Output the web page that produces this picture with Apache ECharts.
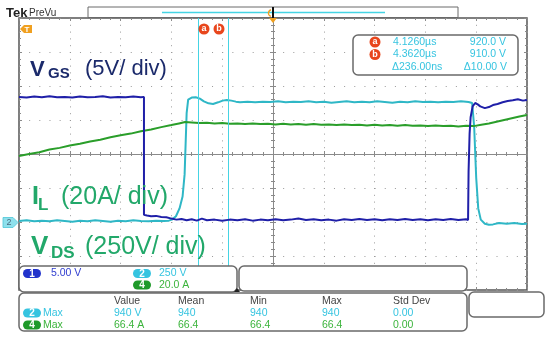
<!DOCTYPE html>
<html><head><meta charset="utf-8">
<script src="https://cdn.jsdelivr.net/npm/echarts@6/dist/echarts.min.js"></script>
<style>html,body{margin:0;padding:0;background:#fff}#c{width:550px;height:338px}</style>
</head><body><div id="c"></div>
<script>
// Data in screen divisions (x: -5..5 time div, y: -4..4 vertical div)
const vgs = [[-5,1.68],[-4.85,1.66],[-4.7,1.69],[-4.55,1.67],[-4.4,1.70],[-4.25,1.67],[-4.1,1.68],[-3.95,1.66],[-3.8,1.69],[-3.65,1.67],[-3.5,1.68],[-3.35,1.70],[-3.2,1.66],[-3.05,1.68],[-2.9,1.67],[-2.75,1.69],[-2.6,1.67],[-2.54,1.68],
[-2.54,-1.79],[-2.48,-1.81],[-2.4,-1.83],[-2.3,-1.82],[-2.2,-1.85],[-2.1,-1.86],[-2.0,-1.90],[-1.9,-1.93],[-1.8,-1.91],[-1.7,-1.95],[-1.6,-1.92],[-1.5,-1.96],[-1.4,-1.90],[-1.3,-1.95],[-1.15,-1.93],[-1.0,-1.96],[-0.85,-1.93],[-0.7,-1.95],[-0.55,-1.92],[-0.4,-1.96],[-0.25,-1.93],[-0.1,-1.95],[0.05,-1.92],[0.2,-1.95],[0.35,-1.93],[0.5,-1.90],[0.65,-1.94],[0.8,-1.92],[0.95,-1.95],[1.1,-1.93],[1.25,-1.96],[1.4,-1.92],[1.55,-1.94],[1.7,-1.91],[1.85,-1.94],[2.0,-1.92],[2.15,-1.95],[2.3,-1.92],[2.45,-1.94],[2.6,-1.91],[2.75,-1.94],[2.9,-1.92],[3.05,-1.95],[3.2,-1.92],[3.35,-1.94],[3.5,-1.91],[3.65,-1.94],[3.8,-1.92],[3.84,-1.94],
[3.85,-0.5],[3.87,0.6],[3.89,1.08],[3.93,1.40],[3.98,1.50],[4.03,1.46],[4.08,1.40],[4.17,1.35],[4.25,1.38],[4.33,1.44],[4.42,1.47],[4.52,1.52],[4.62,1.56],[4.72,1.58],[4.82,1.61],[4.92,1.57],[5,1.59]];
const vds = [[-5,-1.97],[-4.85,-1.95],[-4.7,-1.98],[-4.55,-1.96],[-4.4,-1.98],[-4.25,-1.95],[-4.1,-1.97],[-3.95,-1.99],[-3.8,-1.96],[-3.65,-1.98],[-3.5,-1.95],[-3.35,-1.97],[-3.2,-1.99],[-3.05,-1.96],[-2.9,-1.98],[-2.75,-1.95],[-2.6,-1.97],[-2.45,-1.98],[-2.3,-1.96],[-2.15,-1.97],[-2.05,-1.96],[-1.99,-1.93],[-1.91,-1.83],[-1.84,-1.60],[-1.78,-1.25],[-1.74,-0.60],[-1.72,0.30],[-1.70,1.20],[-1.67,1.60],[-1.60,1.66],[-1.52,1.67],[-1.44,1.63],[-1.36,1.55],[-1.27,1.49],[-1.18,1.47],[-1.08,1.52],[-0.99,1.57],[-0.91,1.59],[-0.82,1.57],[-0.73,1.54],[-0.65,1.52],[-0.5,1.54],[-0.35,1.52],[-0.2,1.54],[-0.05,1.53],[0.1,1.55],[0.25,1.52],[0.4,1.54],[0.55,1.53],[0.7,1.55],[0.85,1.52],[1.0,1.54],[1.15,1.51],[1.3,1.53],[1.45,1.55],[1.6,1.52],[1.75,1.54],[1.9,1.52],[2.05,1.55],[2.2,1.53],[2.35,1.51],[2.5,1.54],[2.65,1.52],[2.8,1.55],[2.95,1.53],[3.1,1.54],[3.25,1.52],[3.4,1.54],[3.55,1.53],[3.7,1.55],[3.85,1.53],[3.92,1.50],[3.96,0.80],[4.0,-0.70],[4.04,-1.60],[4.09,-1.93],[4.17,-2.05],[4.25,-2.08],[4.33,-2.07],[4.45,-2.03],[4.6,-2.05],[4.75,-2.03],[4.9,-2.06],[5,-2.05]];
const il = [[-5,-0.06],[-4.8,0.00],[-4.6,0.05],[-4.4,0.13],[-4.2,0.18],[-4.0,0.25],[-3.8,0.30],[-3.6,0.37],[-3.4,0.42],[-3.2,0.49],[-3.0,0.55],[-2.8,0.60],[-2.6,0.67],[-2.4,0.72],[-2.2,0.79],[-2.0,0.85],[-1.85,0.90],[-1.73,0.94],[-1.6,0.93],[-1.45,0.91],[-1.3,0.92],[-1.15,0.90],[-1.0,0.91],[-0.85,0.89],[-0.7,0.90],[-0.55,0.88],[-0.4,0.90],[-0.25,0.88],[-0.1,0.89],[0.05,0.87],[0.2,0.89],[0.35,0.87],[0.5,0.88],[0.65,0.86],[0.8,0.88],[0.95,0.86],[1.1,0.87],[1.25,0.85],[1.4,0.87],[1.55,0.85],[1.7,0.86],[1.85,0.84],[2.0,0.86],[2.15,0.84],[2.3,0.85],[2.45,0.83],[2.6,0.85],[2.75,0.83],[2.9,0.84],[3.05,0.82],[3.2,0.84],[3.35,0.82],[3.5,0.83],[3.65,0.81],[3.8,0.83],[3.95,0.82],[4.1,0.86],[4.25,0.90],[4.4,0.95],[4.55,1.00],[4.7,1.05],[4.85,1.10],[5,1.15]];
const cursorX = [-1.48, -0.89];
const cursorRows = [["4.1260\u00b5s","920.0 V"],["4.3620\u00b5s","910.0 V"],["\u0394236.00ns","\u039410.00 V"]];
const chScales = ["5.00 V","250 V","20.0 A"];
const measHeader = ["Value","Mean","Min","Max","Std Dev"];
const measRow2 = ["940 V","940","940","940","0.00"];
const measRow4 = ["66.4 A","66.4","66.4","66.4","0.00"];

const FONT = '"Liberation Sans", Arial, sans-serif';
const C_BLUE = '#1f1fa8', C_CYAN = '#2fb7c6', C_GREEN = '#2a9e2a', C_CUR = '#45d4e4';
const C_TXTCY = '#36c4e0', C_TXTGR = '#3cb43c', C_TXTBL = '#3340d0';

function xa(pos, onZero, inside, split) {
  return {type:'value', min:-5, max:5, interval:1, position:pos,
    axisLine:{show:onZero, onZero:onZero, lineStyle:{color:'#8a8a8a', width:1}},
    axisTick:{show:true, inside:inside, length:3, lineStyle:{color:'#8a8a8a'}},
    minorTick:{show:true, splitNumber:5, length:2, lineStyle:{color:'#8a8a8a'}},
    axisLabel:{show:false},
    splitLine:{show:split, lineStyle:{color:'#9a9a9a', type:[1,5.8], width:1}},
    minorSplitLine:{show:false}};
}
function ya(pos, onZero, inside, split) {
  return {type:'value', min:-4, max:4, interval:1, position:pos,
    axisLine:{show:onZero, onZero:onZero, lineStyle:{color:'#8a8a8a', width:1}},
    axisTick:{show:true, inside:inside, length:3, lineStyle:{color:'#8a8a8a'}},
    minorTick:{show:true, splitNumber:5, length:2, lineStyle:{color:'#8a8a8a'}},
    axisLabel:{show:false},
    splitLine:{show:split, lineStyle:{color:'#9a9a9a', type:[1,9.16], width:1}},
    minorSplitLine:{show:false}};
}

function box(x,y,w,h){return {type:'rect', z:50, shape:{x:x,y:y,width:w,height:h,r:5}, style:{fill:'#fff', stroke:'#6a6a6a', lineWidth:1.5}};}
function txt(x,y,t,size,color,align,weight){return {type:'text', z:60, x:x, y:y, style:{text:t, font:(weight||'normal')+' '+size+'px '+FONT, fill:color, align:align||'left', verticalAlign:'middle'}};}
function pill(cx,cy,label,color){return [{type:'rect', z:55, shape:{x:cx-9,y:cy-4.5,width:18,height:9,r:4.5}, style:{fill:color}},
  txt(cx,cy+0.5,label,10,'#fff','center','bold')];}
function circ(cx,cy,label){return [{type:'circle', z:55, shape:{cx:cx,cy:cy,r:5.5}, style:{fill:'#e8461c'}},
  txt(cx,cy,label,9,'#fff','center','bold')];}

const graphics = [
  // top bar
  txt(6,13,'Tek',13,'#222','left','bold'),
  txt(29,13,'PreVu',10,'#333','left'),
  {type:'rect', z:50, shape:{x:88,y:7,width:370,height:10.5}, style:{fill:'#fff', stroke:'#6a6a6a', lineWidth:1}},
  {type:'line', z:55, shape:{x1:162,y1:12.5,x2:385,y2:12.5}, style:{stroke:C_CUR, lineWidth:1.5}},
  {type:'rect', z:56, shape:{x:272,y:7,width:2,height:11}, style:{fill:'#111'}},
  {type:'arc', z:56, shape:{cx:272,cy:13,r:3.5,startAngle:Math.PI*0.6,endAngle:Math.PI*1.4}, style:{stroke:'#f0a020', lineWidth:1.5, fill:null}},
  {type:'polygon', z:56, shape:{points:[[269,18],[277,18],[273,23]]}, style:{fill:'#f0a020'}},
  // trigger marker
  {type:'polygon', z:56, shape:{points:[[20,29],[24,25],[32,25],[32,33],[24,33]]}, style:{fill:'#f0a020'}},
  txt(27,29.5,'T',8,'#fff','center','bold'),
  // ch2 ground marker
  {type:'polygon', z:56, shape:{points:[[3,217.5],[13,217.5],[18,222.5],[13,227.5],[3,227.5]]}, style:{fill:'#8ee0ec', stroke:'#4cc6d8', lineWidth:0.8}},
  txt(9,223,'2',9,'#4a6a80','center'),
  // cursor markers
  ...circ(204,29,'a'), ...circ(219,29,'b'),
  // cursor readout
  box(353,35,165,40),
  ...circ(375,42,'a'), ...circ(375,54.5,'b'),
  txt(393,42,cursorRows[0][0],10.5,C_TXTCY), txt(506,42,cursorRows[0][1],10.5,C_TXTCY,'right'),
  txt(393,54.5,cursorRows[1][0],10.5,C_TXTCY), txt(506,54.5,cursorRows[1][1],10.5,C_TXTCY,'right'),
  txt(392,67,cursorRows[2][0],10.5,C_TXTCY), txt(507,67,cursorRows[2][1],10.5,C_TXTCY,'right'),
  // signal labels
  txt(30,70,'V',22,'#1b2a6b','left','bold'),
  txt(48,74,'GS',15,'#1b2a6b','left','bold'),
  txt(85,69,'(5V/ div)',22,'#1b2a6b','left'),
  txt(32,197,'I',25,'#22a86a','left','bold'),
  txt(38,205,'L',17,'#22a86a','left','bold'),
  txt(61,197,'(20A/ div)',25,'#22a86a','left'),
  txt(31,247,'V',26,'#22a86a','left','bold'),
  txt(51,253,'DS',17,'#22a86a','left','bold'),
  txt(85,247,'(250V/ div)',25,'#22a86a','left'),
  // bottom boxes
  box(19,266,218,26),
  box(239,266,228,25),
  ...pill(32,273.5,'1','#2233cc'), txt(51,273.5,chScales[0],10.5,C_TXTBL),
  ...pill(142,273.5,'2',C_TXTCY), txt(159,273.5,chScales[1],10.5,C_TXTCY),
  ...pill(142,285,'4','#1f9a2a'), txt(159,285,chScales[2],10.5,C_TXTGR),
  {type:'polygon', z:58, shape:{points:[[234,292],[240,292],[237,288]]}, style:{fill:'#222'}},
  box(19,293,448,38),
  box(469,292,75,25),
  ...pill(32,313,'2',C_TXTCY), txt(43,313,'Max',10.5,C_TXTCY),
  ...pill(32,325,'4','#1f9a2a'), txt(43,325,'Max',10.5,C_TXTGR)
];
const measX = [114,178,250,322,393];
measHeader.forEach((h,i)=>graphics.push(txt(measX[i],301,h,10.5,'#444')));
measRow2.forEach((h,i)=>graphics.push(txt(measX[i],313,h,10.5,C_TXTCY)));
measRow4.forEach((h,i)=>graphics.push(txt(measX[i],325,h,10.5,C_TXTGR)));

const chart = echarts.init(document.getElementById('c'), null, {renderer:'canvas'});
chart.setOption({
  animation:false,
  backgroundColor:'#fff',
  grid:{left:19, top:18, width:508, height:272, show:true, borderColor:'#555', borderWidth:1.5, backgroundColor:'#fff'},
  xAxis:[xa('bottom',true,false,true), xa('top',true,false,false), xa('bottom',false,true,false), xa('top',false,true,false)],
  yAxis:[ya('left',true,false,true), ya('right',true,false,false), ya('left',false,true,false), ya('right',false,true,false)],
  series:[
    {type:'line', data:vds, showSymbol:false, lineStyle:{color:C_CYAN, width:2}, z:3,
      markLine:{silent:true, symbol:'none', label:{show:false}, lineStyle:{type:'solid', color:C_CUR, width:1}, data:cursorX.map(v=>({xAxis:v}))}},
    {type:'line', data:il, showSymbol:false, lineStyle:{color:C_GREEN, width:2}, z:4},
    {type:'line', data:vgs, showSymbol:false, lineStyle:{color:C_BLUE, width:2}, z:5}
  ],
  graphic:graphics
});
</script></body></html>
